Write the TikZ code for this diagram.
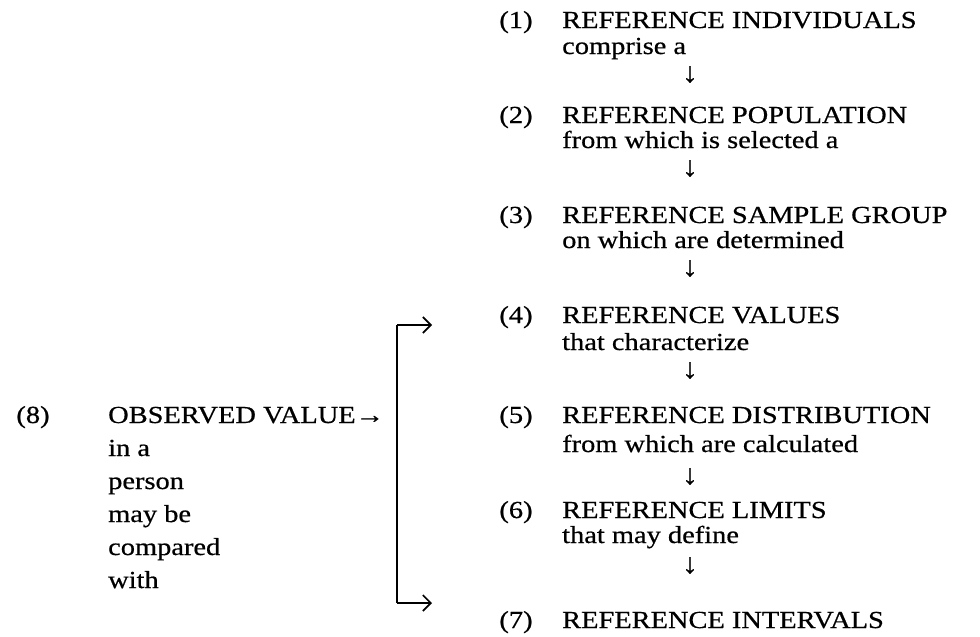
\documentclass[tikz,border=0pt]{standalone}
\usepackage{fontspec}
\setmainfont[FakeStretch=1.16,FakeBold=0.6]{Liberation Serif}
\usetikzlibrary{arrows.meta}
\begin{document}
\begin{tikzpicture}[x=1pt,y=-1pt,
  txt/.style={anchor=base west,inner sep=0pt,font=\fontsize{24.5}{26}\selectfont},
  num/.style={anchor=base,inner sep=0pt,font=\fontsize{24.5}{26}\selectfont},
  dn/.style={anchor=base,inner sep=0pt,font=\fontsize{28}{28}\selectfont},
  br/.style={line width=1.8pt},
  arr/.style={br,-{Straight Barb[length=8pt,width=16pt,line width=1.6pt]}}]
\useasboundingbox (0,0) rectangle (980,637);
\node[num] (n1) at (516,28) {(1)};
\node[txt] (t1) at (562,28) {REFERENCE INDIVIDUALS};
\node[txt] (s1) at (562,54) {comprise a};
\node[dn] (a1) at (690,82) {↓};
\node[num] (n2) at (516,123) {(2)};
\node[txt] (t2) at (562,123) {REFERENCE POPULATION};
\node[txt] (s2) at (562,148) {from which is selected a};
\node[dn] (a2) at (690,176) {↓};
\node[num] (n3) at (516,223) {(3)};
\node[txt] (t3) at (562,223) {REFERENCE SAMPLE GROUP};
\node[txt] (s3) at (562,248) {on which are determined};
\node[dn] (a3) at (690,276) {↓};
\node[num] (n4) at (516,323) {(4)};
\node[txt] (t4) at (562,323) {REFERENCE VALUES};
\node[txt] (s4) at (562,350) {that characterize};
\node[dn] (a4) at (690,378) {↓};
\node[num] (n5) at (516,423) {(5)};
\node[txt] (t5) at (562,423) {REFERENCE DISTRIBUTION};
\node[txt] (s5) at (562,452) {from which are calculated};
\node[dn] (a5) at (690,484) {↓};
\node[num] (n6) at (516,518) {(6)};
\node[txt] (t6) at (562,518) {REFERENCE LIMITS};
\node[txt] (s6) at (562,543) {that may define};
\node[dn] (a6) at (690,573) {↓};
\node[num] (n7) at (516,628) {(7)};
\node[txt] (t7) at (562,628) {REFERENCE INTERVALS};
\node[num] (n8) at (33,423) {(8)};
\node[txt] (t8) at (108,423) {OBSERVED VALUE→};
\node[txt] (l1) at (108,456) {in a};
\node[txt] (l2) at (108,489) {person};
\node[txt] (l3) at (108,522) {may be};
\node[txt] (l4) at (108,555) {compared};
\node[txt] (l5) at (108,588) {with};
\coordinate (top) at (397,325);
\coordinate (bot) at (397,603);
\coordinate (topE) at (432,325);
\coordinate (botE) at (432,603);
\draw[br] (top) -- (bot);
\draw[arr] (top) -- (topE);
\draw[arr] (bot) -- (botE);
\end{tikzpicture}
\end{document}
